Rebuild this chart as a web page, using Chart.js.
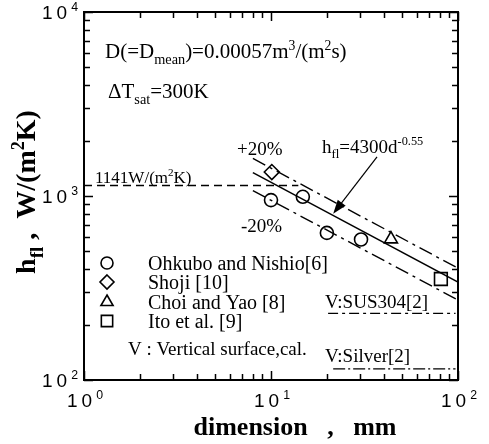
<!DOCTYPE html>
<html><head><meta charset="utf-8">
<script src="https://cdn.jsdelivr.net/npm/chart.js@4.4.1/dist/chart.umd.min.js"></script>
<style>html,body{margin:0;padding:0;background:#fff;}#wrap{width:489px;height:444px;position:relative;}</style>
</head><body><div id="wrap"><canvas id="c" width="489" height="444"></canvas></div>
<script>
// ---- data (d in mm, h in W/(m2K)) ----
const ohkuboD = [10.0, 14.8, 19.9, 30.3];
const ohkuboH = [950, 990, 630, 580];
const shojiD = [10.1];
const shojiH = [1350];
const choiD = [43.8];
const choiH = [583];
const itoD = [81];
const itoH = [354];
const corrD = [8, 100];
const corrH = [1340, 340];
const plusD = [8, 100];
const plusH = [1600, 405];
const minusD = [8, 100];
const minusH = [1070, 272];
const limitD = [1, 14];
const limitH = [1141, 1141];
const susD = [20.2, 97];
const susH = [230, 230];
const silverD = [21.5, 97];
const silverH = [115, 115];
const arrowD = [36.9, 21.5];
const arrowH = [1630, 800];
const xTickExp = [0, 1, 2];
const yTickExp = [2, 3, 4];
const legendNames = ['Ohkubo and Nishio[6]', 'Shoji [10]', 'Choi and Yao [8]', 'Ito et al. [9]'];

const SERIF = '"Liberation Serif","Times New Roman",serif';
const SANS = '"Liberation Sans",Arial,sans-serif';
const pts = (xs, ys) => xs.map((x, i) => ({x: x, y: ys[i]}));

function partFont(size, mode, weight, family) {
  const s = mode ? size * (mode === 'sub' ? 0.68 : 0.65) : size;
  return (weight || 'normal') + ' ' + s.toFixed(1) + 'px ' + family;
}
function richWidth(ctx, parts, size, weight, family) {
  let w = 0;
  for (const [t, m] of parts) { ctx.font = partFont(size, m, weight, family); w += ctx.measureText(t).width; }
  return w;
}
function drawRich(ctx, x, y, parts, size, o) {
  o = o || {};
  const family = o.family || SERIF, weight = o.weight || 'normal';
  const w = richWidth(ctx, parts, size, weight, family);
  let cx = x;
  if (o.align === 'center') cx = x - w / 2;
  else if (o.align === 'right') cx = x - w;
  ctx.textAlign = 'left';
  ctx.textBaseline = 'alphabetic';
  ctx.fillStyle = '#000';
  for (const [t, m] of parts) {
    ctx.font = partFont(size, m, weight, family);
    const dy = m === 'sub' ? size * 0.28 : (m === 'sup' ? -size * 0.4 : 0);
    ctx.fillText(t, cx, y + dy);
    cx += ctx.measureText(t).width;
  }
}
function marker(ctx, style, x, y, r) {
  ctx.beginPath();
  if (style === 'circle') ctx.arc(x, y, r, 0, Math.PI * 2);
  else if (style === 'rectRot') { ctx.moveTo(x, y - r); ctx.lineTo(x + r, y); ctx.lineTo(x, y + r); ctx.lineTo(x - r, y); ctx.closePath(); }
  else if (style === 'triangle') { ctx.moveTo(x, y - r); ctx.lineTo(x + r * 0.866, y + r * 0.5); ctx.lineTo(x - r * 0.866, y + r * 0.5); ctx.closePath(); }
  else if (style === 'rect') { const s = r * Math.SQRT1_2; ctx.rect(x - s, y - s, 2 * s, 2 * s); }
  ctx.fillStyle = '#fff'; ctx.fill();
  ctx.lineWidth = 1.6; ctx.strokeStyle = '#000'; ctx.stroke();
}

const deco = {
  id: 'deco',
  afterDraw(chart) {
    const ctx = chart.ctx, a = chart.chartArea, xs = chart.scales.x, ys = chart.scales.y;
    ctx.save();
    // ticks inward on all four sides
    ctx.strokeStyle = '#000'; ctx.lineWidth = 1.5;
    const xv = [], yv = [];
    for (let e = 0; e < 2; e++) for (let j = 1; j <= 9; j++) xv.push([j * Math.pow(10, e), j === 1]);
    xv.push([100, true]);
    for (let e = 2; e < 4; e++) for (let j = 1; j <= 9; j++) yv.push([j * Math.pow(10, e), j === 1]);
    yv.push([10000, true]);
    ctx.beginPath();
    for (const [v, maj] of xv) {
      const p = Math.round(xs.getPixelForValue(v)) + 0.5, L = maj ? 9 : 6;
      ctx.moveTo(p, a.bottom); ctx.lineTo(p, a.bottom - L);
      ctx.moveTo(p, a.top); ctx.lineTo(p, a.top + L);
    }
    for (const [v, maj] of yv) {
      const p = Math.round(ys.getPixelForValue(v)) + 0.5, L = maj ? 9 : 6;
      ctx.moveTo(a.left, p); ctx.lineTo(a.left + L, p);
      ctx.moveTo(a.right, p); ctx.lineTo(a.right - L, p);
    }
    ctx.stroke();
    // frame
    ctx.lineWidth = 2;
    ctx.strokeRect(a.left, a.top, a.right - a.left, a.bottom - a.top);

    // tick labels
    ctx.letterSpacing = '4px';
    for (const e of xTickExp) {
      const p = xs.getPixelForValue(Math.pow(10, e));
      drawRich(ctx, p + 3, a.bottom + 27, [['10', ''], [String(e), 'sup']], 19, {family: SANS, align: 'center'});
    }
    for (const e of yTickExp) {
      const p = ys.getPixelForValue(Math.pow(10, e));
      drawRich(ctx, a.left - 2, p + 7, [['10', ''], [String(e), 'sup']], 19, {family: SANS, align: 'right'});
    }
    ctx.letterSpacing = '0px';

    // axis titles
    drawRich(ctx, 295, 435, [['dimension   ,   mm', '']], 26, {weight: 'bold', align: 'center'});
    ctx.save();
    ctx.translate(35, 192);
    ctx.rotate(-Math.PI / 2);
    drawRich(ctx, 0, 0, [['h', ''], ['fl', 'sub'], [' ,  W/(m', ''], ['2', 'sup'], ['K)', '']], 28, {weight: 'bold', align: 'center'});
    ctx.restore();

    // annotations
    drawRich(ctx, 105, 58, [['D(=D', ''], ['mean', 'sub'], [')=0.00057m', ''], ['3', 'sup'], ['/(m', ''], ['2', 'sup'], ['s)', '']], 21);
    drawRich(ctx, 108, 98, [['\u0394T', ''], ['sat', 'sub'], ['=300K', '']], 21);
    drawRich(ctx, 95, 183, [['1141W/(m', ''], ['2', 'sup'], ['K)', '']], 17);
    drawRich(ctx, 237, 155, [['+20%', '']], 19);
    drawRich(ctx, 241, 232, [['-20%', '']], 19);
    drawRich(ctx, 322, 153, [['h', ''], ['fl', 'sub'], ['=4300d', ''], ['-0.55', 'sup']], 19);
    drawRich(ctx, 325, 308, [['V:SUS304[2]', '']], 19);
    drawRich(ctx, 325, 362, [['V:Silver[2]', '']], 19);
    drawRich(ctx, 128, 355, [['V : Vertical surface,cal.', '']], 19);

    // legend
    const styles = ['circle', 'rectRot', 'triangle', 'rect'];
    const radii = [6, 7, 7, 8];
    const base = [270, 289, 309, 328];
    styles.forEach((s, i) => {
      marker(ctx, s, 107, base[i] - 7, radii[i]);
      drawRich(ctx, 148, base[i], [[legendNames[i], '']], 20);
    });

    // arrow
    const x0 = xs.getPixelForValue(arrowD[0]), y0 = ys.getPixelForValue(arrowH[0]);
    const x1 = xs.getPixelForValue(arrowD[1]), y1 = ys.getPixelForValue(arrowH[1]);
    const ang = Math.atan2(y1 - y0, x1 - x0);
    ctx.strokeStyle = '#000'; ctx.lineWidth = 1.2;
    ctx.beginPath(); ctx.moveTo(x0, y0); ctx.lineTo(x1 - 10 * Math.cos(ang), y1 - 10 * Math.sin(ang)); ctx.stroke();
    ctx.beginPath();
    ctx.moveTo(x1, y1);
    ctx.lineTo(x1 - 14 * Math.cos(ang) + 5 * Math.sin(ang), y1 - 14 * Math.sin(ang) - 5 * Math.cos(ang));
    ctx.lineTo(x1 - 14 * Math.cos(ang) - 5 * Math.sin(ang), y1 - 14 * Math.sin(ang) + 5 * Math.cos(ang));
    ctx.closePath(); ctx.fillStyle = '#000'; ctx.fill();
    ctx.restore();
  }
};

const lineDs = (xs, ys, dash, w) => ({data: pts(xs, ys), showLine: true, borderColor: '#000', borderWidth: w || 1.4, borderDash: dash, pointRadius: 0, fill: false});
const ptDs = (xs, ys, style, r) => ({data: pts(xs, ys), showLine: false, pointStyle: style, pointRadius: r, pointBackgroundColor: '#fff', pointBorderColor: '#000', pointBorderWidth: 1.6});

new Chart(document.getElementById('c').getContext('2d'), {
  type: 'scatter',
  data: {datasets: [
    lineDs(limitD, limitH, [8, 5]),
    lineDs(corrD, corrH, [], 1.5),
    lineDs(plusD, plusH, [14, 5, 3, 5]),
    lineDs(minusD, minusH, [14, 5, 3, 5]),
    lineDs(susD, susH, [10, 4, 3, 4], 1.3),
    lineDs(silverD, silverH, [12, 3, 2, 3], 1.3),
    ptDs(ohkuboD, ohkuboH, 'circle', 6.5),
    ptDs(shojiD, shojiH, 'rectRot', 7.5),
    ptDs(choiD, choiH, 'triangle', 7.5),
    ptDs(itoD, itoH, 'rect', 9)
  ]},
  options: {
    responsive: false, animation: false, devicePixelRatio: 1,
    layout: {padding: {left: 84, right: 31, top: 12, bottom: 64}},
    plugins: {legend: {display: false}, tooltip: {enabled: false}},
    scales: {
      x: {type: 'logarithmic', min: 1, max: 100, display: false},
      y: {type: 'logarithmic', min: 100, max: 10000, display: false}
    }
  },
  plugins: [deco]
});
</script></body></html>
